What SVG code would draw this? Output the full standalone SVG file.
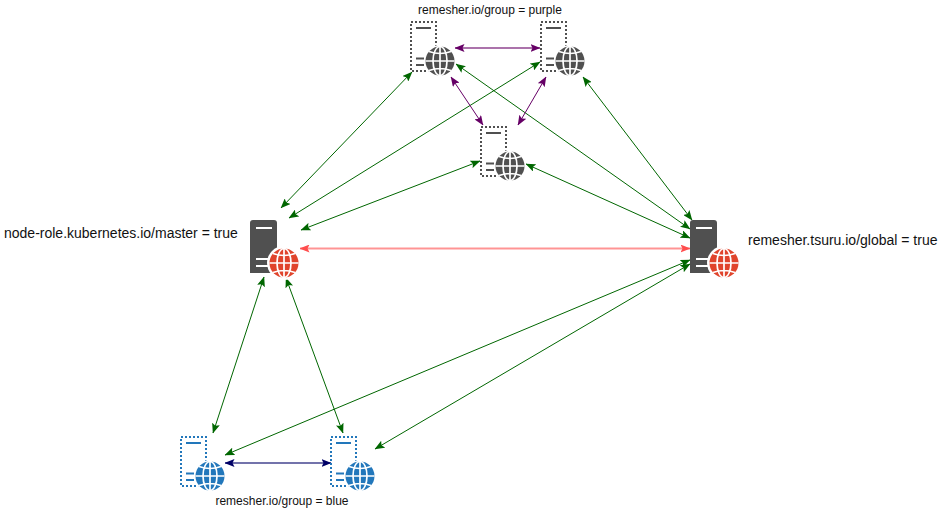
<svg xmlns="http://www.w3.org/2000/svg" width="949" height="528" viewBox="0 0 949 528">
<style>
text{font-family:"Liberation Sans",Arial,sans-serif;fill:#111}
.lg{font-size:14px}
.sm{font-size:12px}
.c{fill:none;stroke-width:1}
.g{stroke:#006600;marker-start:url(#ag);marker-end:url(#ag)}
.p{stroke:#660066;marker-start:url(#ap);marker-end:url(#ap)}
.pt{stroke:#660066;stroke-opacity:.55;stroke-width:2;marker-start:url(#ap);marker-end:url(#ap)}
.n{stroke:#000066;stroke-opacity:.55;stroke-width:2;marker-start:url(#an);marker-end:url(#an)}
.r{stroke:#ff0000;stroke-opacity:.42;stroke-width:2;marker-start:url(#ar);marker-end:url(#ar)}
.dk{fill:#505050}
.w{fill:none;stroke:#fff;stroke-width:2}
.gl{fill:none;stroke:#fff;stroke-width:1.7}
</style>
<defs>
<marker id="ag" viewBox="0 0 10 8" refX="9.5" refY="4" markerUnits="userSpaceOnUse" markerWidth="10" markerHeight="8" orient="auto-start-reverse"><path d="M0 0L10 4L0 8L2 4Z" fill="#006600"/></marker>
<marker id="ap" viewBox="0 0 10 8" refX="9.5" refY="4" markerUnits="userSpaceOnUse" markerWidth="10" markerHeight="8" orient="auto-start-reverse"><path d="M0 0L10 4L0 8L2 4Z" fill="#660066"/></marker>
<marker id="an" viewBox="0 0 10 8" refX="9.5" refY="4" markerUnits="userSpaceOnUse" markerWidth="10" markerHeight="8" orient="auto-start-reverse"><path d="M0 0L10 4L0 8L2 4Z" fill="#000066"/></marker>
<marker id="ar" viewBox="0 0 10 8" refX="9.5" refY="4" markerUnits="userSpaceOnUse" markerWidth="10" markerHeight="8" orient="auto-start-reverse"><path d="M0 0L10 4L0 8L2 4Z" fill="#ff4d4d"/></marker>
<g id="globe">
<circle r="14.5" fill="currentColor"/>
<path class="gl" d="M-14.5 0H14.5M0-14.5V14.5M-11-9.5Q0-5.5 11-9.5M-11 9.5Q0 5.5 11 9.5"/>
<ellipse class="gl" rx="7" ry="14.5"/>
</g>
<g id="dotsrv">
<rect x="1" y="1" width="25" height="49" fill="none" stroke="currentColor" stroke-width="2" stroke-dasharray="2 2"/>
<path d="M6 7H21M6 37.5H14M6 44H14" fill="none" stroke="currentColor" stroke-width="2"/>
<circle cx="30" cy="40" r="16" fill="#fff"/>
<use href="#globe" x="30" y="40"/>
</g>
<g id="solidsrv">
<path class="dk" d="M0 3Q0 0 3 0H24Q27 0 27 3V53H0Z"/>
<path class="w" d="M6 8H22M6 39H22M6 46H22"/>
<circle cx="34" cy="43" r="17" fill="#fff"/>
<use href="#globe" x="34" y="43"/>
</g>
</defs>
<g id="connectors">
<path class="c g" d="M412 72L281 208"/>
<path class="c g" d="M540 62L289 218"/>
<path class="c g" d="M480 161L301 230"/>
<path class="c g" d="M456 64L690 229"/>
<path class="c g" d="M583 77L692 220"/>
<path class="c g" d="M526 164L690 238"/>
<path class="c g" d="M225 455L690 260"/>
<path class="c g" d="M375 449L690 264"/>
<path class="c g" d="M264 277L213 433"/>
<path class="c g" d="M286 278L343 433"/>
<path class="c r" d="M300 248.500L690 248.500"/>
<path class="c pt" d="M455 48L540 48"/>
<path class="c p" d="M451 77L483 125"/>
<path class="c p" d="M546 77L518 125"/>
<path class="c n" d="M225 463L331 463"/>
</g>
<g id="node-purple-1" color="#505050"><use href="#dotsrv" x="410" y="21"/></g>
<g id="node-purple-2" color="#505050"><use href="#dotsrv" x="540" y="21"/></g>
<g id="node-purple-3" color="#505050"><use href="#dotsrv" x="480" y="126"/></g>
<g id="node-master" color="#e0442c"><use href="#solidsrv" x="250" y="220"/></g>
<g id="node-global" color="#e0442c"><use href="#solidsrv" x="690" y="220"/></g>
<g id="node-blue-1" color="#2277bb"><use href="#dotsrv" x="180" y="436"/></g>
<g id="node-blue-2" color="#2277bb"><use href="#dotsrv" x="330" y="436"/></g>
<text class="sm" x="490" y="14" text-anchor="middle">remesher.io/group = purple</text>
<text class="lg" x="4" y="238">node-role.kubernetes.io/master = true</text>
<text class="lg" x="748" y="245">remesher.tsuru.io/global = true</text>
<text class="sm" x="282" y="505" text-anchor="middle">remesher.io/group = blue</text>
</svg>
